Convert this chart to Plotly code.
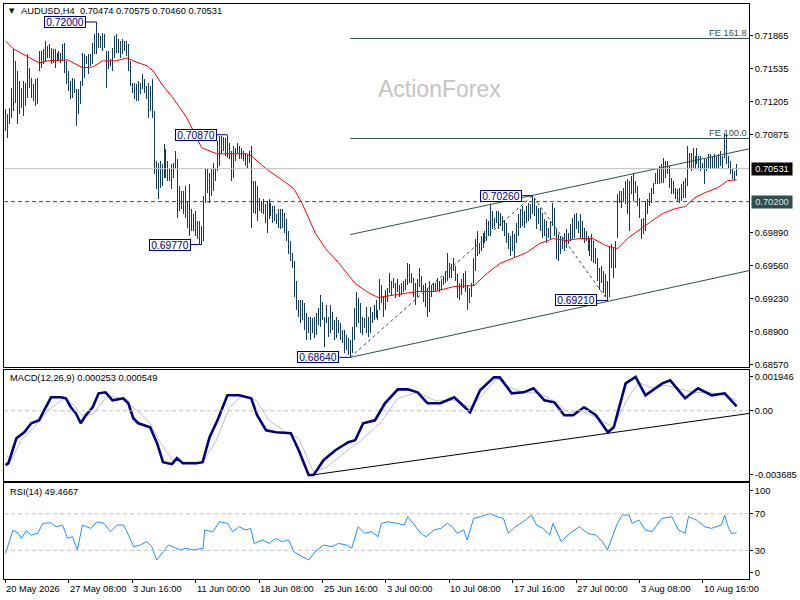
import plotly.graph_objects as go

# AUDUSD H4 bars, highs and lows (bar 0 = 20 May 2026 00:00)
bar_high = [
    0.7113, 0.7108, 0.7114, 0.7134, 0.7173, 0.7161, 0.7151, 0.7141, 0.7134, 0.7141,
    0.7139, 0.7168, 0.7154, 0.7144, 0.7138, 0.7143, 0.7144, 0.7171, 0.7171, 0.7173,
    0.7181, 0.7176, 0.7178, 0.7174, 0.7173, 0.7173, 0.7169, 0.7171, 0.7169, 0.7178,
    0.7179, 0.7161, 0.7151, 0.7141, 0.7144, 0.7143, 0.7133, 0.7133, 0.7141, 0.7169,
    0.7168, 0.7166, 0.7168, 0.7168, 0.7179, 0.7188, 0.7200, 0.7189, 0.7186, 0.7189,
    0.7188, 0.7171, 0.7171, 0.7163, 0.7174, 0.7186, 0.7188, 0.7183, 0.7181, 0.7183,
    0.7181, 0.7181, 0.7178, 0.7161, 0.7139, 0.7139, 0.7138, 0.7141, 0.7139, 0.7148,
    0.7143, 0.7136, 0.7139, 0.7136, 0.7143, 0.7111, 0.7061, 0.7059, 0.7061, 0.7058,
    0.7078, 0.7073, 0.7061, 0.7054, 0.7058, 0.7059, 0.7071, 0.7063, 0.7036, 0.7031,
    0.7031, 0.7036, 0.7021, 0.7038, 0.7013, 0.7008, 0.7011, 0.7001, 0.7001, 0.6996,
    0.7026, 0.7054, 0.7053, 0.7049, 0.7053, 0.7059, 0.7054, 0.7081, 0.7086, 0.7086,
    0.7085, 0.7084, 0.7087, 0.7079, 0.7071, 0.7076, 0.7074, 0.7079, 0.7076, 0.7074,
    0.7071, 0.7069, 0.7068, 0.7071, 0.7076, 0.7041, 0.7041, 0.7036, 0.7024, 0.7021,
    0.7023, 0.7018, 0.7021, 0.7023, 0.7019, 0.7016, 0.7016, 0.7008, 0.7013, 0.7013,
    0.7013, 0.7009, 0.7003, 0.6991, 0.6981, 0.6969, 0.6961, 0.6941, 0.6921, 0.6921,
    0.6921, 0.6918, 0.6908, 0.6904, 0.6904, 0.6903, 0.6904, 0.6908, 0.6913, 0.6926,
    0.6919, 0.6904, 0.6916, 0.6904, 0.6916, 0.6909, 0.6901, 0.6904, 0.6901, 0.6898,
    0.6891, 0.6891, 0.6886, 0.6883, 0.6881, 0.6894, 0.6913, 0.6929, 0.6923, 0.6918,
    0.6904, 0.6903, 0.6914, 0.6904, 0.6914, 0.6909, 0.6916, 0.6921, 0.6911, 0.6943,
    0.6936, 0.6924, 0.6931, 0.6933, 0.6949, 0.6941, 0.6944, 0.6939, 0.6943, 0.6936,
    0.6938, 0.6941, 0.6943, 0.6959, 0.6958, 0.6949, 0.6944, 0.6939, 0.6943, 0.6954,
    0.6946, 0.6936, 0.6938, 0.6933, 0.6941, 0.6936, 0.6939, 0.6938, 0.6944, 0.6941,
    0.6943, 0.6946, 0.6951, 0.6969, 0.6959, 0.6958, 0.6964, 0.6956, 0.6948, 0.6939,
    0.6943, 0.6949, 0.6951, 0.6936, 0.6933, 0.6938, 0.6964, 0.6983, 0.6991, 0.6979,
    0.6986, 0.6989, 0.6991, 0.7003, 0.7001, 0.7018, 0.7011, 0.7004, 0.7011, 0.7011,
    0.7009, 0.7006, 0.7001, 0.6999, 0.6989, 0.6986, 0.6991, 0.6988, 0.6999, 0.7008,
    0.7013, 0.7016, 0.7011, 0.7016, 0.7019, 0.7018, 0.7026, 0.7024, 0.7016, 0.7014,
    0.7014, 0.7009, 0.7003, 0.7001, 0.6994, 0.7001, 0.7019, 0.7014, 0.6993, 0.6988,
    0.6986, 0.6984, 0.6989, 0.6993, 0.6989, 0.6998, 0.7004, 0.7008, 0.7009, 0.7001,
    0.7008, 0.7001, 0.6994, 0.6991, 0.6986, 0.6984, 0.6988, 0.6981, 0.6974, 0.6964,
    0.6954, 0.6956, 0.6951, 0.6948, 0.6941, 0.6976, 0.6978, 0.6974, 0.6981, 0.7028,
    0.7031, 0.7031, 0.7034, 0.7041, 0.7043, 0.7041, 0.7046, 0.7049, 0.7041, 0.7036,
    0.7024, 0.7003, 0.7004, 0.7021, 0.7023, 0.7029, 0.7034, 0.7039, 0.7049, 0.7054,
    0.7056, 0.7058, 0.7064, 0.7061, 0.7061, 0.7056, 0.7044, 0.7041, 0.7034, 0.7033,
    0.7034, 0.7038, 0.7041, 0.7044, 0.7076, 0.7069, 0.7069, 0.7074, 0.7066, 0.7074,
    0.7066, 0.7066, 0.7059, 0.7063, 0.7063, 0.7068, 0.7068, 0.7066, 0.7068, 0.7066,
    0.7068, 0.7071, 0.7066, 0.7089, 0.7088, 0.7066, 0.7061, 0.7053, 0.7051, 0.70575,
]
bar_low = [
    0.7091, 0.7084, 0.7098, 0.7104, 0.7111, 0.7119, 0.7098, 0.7108, 0.7114, 0.7106,
    0.7116, 0.7124, 0.7134, 0.7124, 0.7121, 0.7116, 0.7118, 0.7151, 0.7154, 0.7158,
    0.7161, 0.7164, 0.7164, 0.7158, 0.7159, 0.7154, 0.7161, 0.7161, 0.7159, 0.7161,
    0.7149, 0.7138, 0.7131, 0.7123, 0.7124, 0.7129, 0.7096, 0.7108, 0.7118, 0.7136,
    0.7144, 0.7158, 0.7148, 0.7156, 0.7158, 0.7168, 0.7168, 0.7174, 0.7174, 0.7171,
    0.7174, 0.7134, 0.7153, 0.7156, 0.7151, 0.7164, 0.7169, 0.7169, 0.7164, 0.7168,
    0.7171, 0.7166, 0.7151, 0.7136, 0.7129, 0.7123, 0.7121, 0.7121, 0.7128, 0.7133,
    0.7129, 0.7123, 0.7104, 0.7111, 0.7104, 0.7048, 0.7033, 0.7023, 0.7034, 0.7036,
    0.7044, 0.7044, 0.7041, 0.7041, 0.7033, 0.7044, 0.7053, 0.7004, 0.7011, 0.7013,
    0.7008, 0.7004, 0.6994, 0.6986, 0.6991, 0.6991, 0.6986, 0.6983, 0.6978, 0.6977,
    0.6981, 0.7019, 0.7029, 0.7019, 0.7026, 0.7031, 0.7041, 0.7051, 0.7056, 0.7068,
    0.7071, 0.7066, 0.7064, 0.7063, 0.7041, 0.7044, 0.7061, 0.7068, 0.7063, 0.7063,
    0.7061, 0.7056, 0.7054, 0.7059, 0.6994, 0.7009, 0.7008, 0.7001, 0.7011, 0.7009,
    0.7008, 0.6999, 0.6989, 0.7003, 0.7006, 0.6999, 0.7001, 0.6998, 0.6994, 0.6993,
    0.6994, 0.6989, 0.6981, 0.6968, 0.6961, 0.6954, 0.6924, 0.6911, 0.6904, 0.6898,
    0.6901, 0.6891, 0.6881, 0.6888, 0.6881, 0.6888, 0.6883, 0.6886, 0.6896, 0.6894,
    0.6901, 0.6874, 0.6898, 0.6884, 0.6888, 0.6891, 0.6881, 0.6883, 0.6888, 0.6881,
    0.6878, 0.6868, 0.6871, 0.6866, 0.6864, 0.6868, 0.6881, 0.6894, 0.6898, 0.6888,
    0.6886, 0.6893, 0.6888, 0.6884, 0.6888, 0.6898, 0.6901, 0.6903, 0.6901, 0.6911,
    0.6918, 0.6904, 0.6911, 0.6919, 0.6928, 0.6926, 0.6933, 0.6923, 0.6929, 0.6924,
    0.6926, 0.6929, 0.6931, 0.6936, 0.6939, 0.6938, 0.6924, 0.6916, 0.6924, 0.6934,
    0.6929, 0.6919, 0.6914, 0.6904, 0.6909, 0.6924, 0.6929, 0.6929, 0.6931, 0.6929,
    0.6931, 0.6936, 0.6939, 0.6941, 0.6944, 0.6944, 0.6951, 0.6941, 0.6923, 0.6921,
    0.6926, 0.6933, 0.6929, 0.6911, 0.6918, 0.6924, 0.6936, 0.6951, 0.6966, 0.6968,
    0.6971, 0.6974, 0.6979, 0.6981, 0.6986, 0.6986, 0.6993, 0.6994, 0.6999, 0.6993,
    0.6996, 0.6991, 0.6986, 0.6979, 0.6973, 0.6966, 0.6971, 0.6964, 0.6979, 0.6986,
    0.6994, 0.6996, 0.6994, 0.6999, 0.7001, 0.7003, 0.7008, 0.7006, 0.6993, 0.6998,
    0.6991, 0.6984, 0.6986, 0.6979, 0.6984, 0.6983, 0.6996, 0.6986, 0.6963, 0.6961,
    0.6968, 0.6973, 0.6971, 0.6974, 0.6978, 0.6981, 0.6983, 0.6984, 0.6993, 0.6989,
    0.6984, 0.6983, 0.6979, 0.6981, 0.6971, 0.6966, 0.6961, 0.6959, 0.6958, 0.6941,
    0.6931, 0.6938, 0.6928, 0.6924, 0.6921, 0.6924, 0.6954, 0.6944, 0.6954, 0.6984,
    0.7019, 0.7014, 0.7021, 0.7018, 0.7008, 0.6991, 0.7028, 0.7021, 0.7029, 0.7016,
    0.7004, 0.6983, 0.6988, 0.6991, 0.7008, 0.7016, 0.7019, 0.7028, 0.7038, 0.7038,
    0.7038, 0.7039, 0.7039, 0.7044, 0.7048, 0.7034, 0.7028, 0.7028, 0.7023, 0.7021,
    0.7019, 0.7021, 0.7024, 0.7024, 0.7036, 0.7054, 0.7051, 0.7054, 0.7053, 0.7058,
    0.7054, 0.7051, 0.7053, 0.7038, 0.7051, 0.7053, 0.7053, 0.7054, 0.7054, 0.7053,
    0.7054, 0.7056, 0.7053, 0.7064, 0.7058, 0.7054, 0.7048, 0.7043, 0.7041, 0.70460,
]

# red moving average, sampled along the line
ma_bar = [0, 4, 10.5, 17, 21.5, 31.5, 39, 44, 49, 55.5,
          61.5, 64.5, 71.5, 74.5, 79.5, 84.5, 91.5, 99, 106.5, 121.5,
          124, 131.5, 141.5, 145.5, 149.5, 156.5, 161.5, 168, 176.5, 183,
          188, 198, 208, 216.5, 226.5, 236.5, 243, 249.5, 256.5, 263,
          269.5, 276.5, 283, 289.5, 296.5, 303, 309, 314.5, 321.5, 331.5,
          338, 343, 348, 353, 359.5, 364.5, 369]
ma_val = [0.7181, 0.7173, 0.7166, 0.7159, 0.7161, 0.7162, 0.7154, 0.7155, 0.7161, 0.7161,
          0.7164, 0.7161, 0.7156, 0.7151, 0.7136, 0.7124, 0.7104, 0.7074, 0.7068, 0.7068,
          0.7066, 0.7053, 0.7039, 0.7033, 0.7019, 0.6988, 0.6973, 0.6959, 0.6938, 0.6929,
          0.6924, 0.6927, 0.6930, 0.6930, 0.6935, 0.6936, 0.6948, 0.6958, 0.6964, 0.6969,
          0.6978, 0.6983, 0.6981, 0.6983, 0.6983, 0.6976, 0.6973, 0.6984, 0.6994, 0.7008,
          0.7013, 0.7015, 0.7024, 0.7029, 0.7034, 0.7041, 0.7042]

# MACD(12,26,9) main and signal lines
macd_bar = [0, 1.5, 5.5, 9.5, 13, 17, 19.5, 23, 28, 30.5,
            33, 35.5, 38, 40.5, 44, 47, 50.5, 54, 59.5, 62,
            64.5, 67, 73, 76.5, 79.5, 84, 86.5, 89.5, 96.5, 99.5,
            103, 107, 112, 114.5, 118, 124, 127, 131.5, 136.5, 144,
            148, 153, 155.5, 160.5, 166.5, 173, 176.5, 180.5, 186.5, 191.5,
            198, 203, 208, 213, 219.5, 226.5, 233, 234.5, 239.5, 246.5,
            249.5, 255.5, 261.5, 266.5, 272, 277, 282, 286.5, 292, 298,
            304, 307, 313, 318, 323, 331.5, 335.5, 343, 349.5, 356.5,
            363, 368, 369]
macd_main = [-0.003123, -0.003009, -0.001577, -0.001233, -0.000718, -0.000546, 0.000027, 0.000772, 0.000772, 0.000715,
             0.000199, -0.000145, -0.000718, -0.000259, 0.000199, 0.001001, 0.001058, 0.000600, 0.000715, 0.000428,
             -0.000431, -0.000718, -0.000947, -0.001863, -0.002951, -0.003066, -0.002722, -0.003009, -0.003009, -0.002951,
             -0.001519, -0.000546, 0.000886, 0.000886, 0.000886, 0.000715, -0.000259, -0.001118, -0.001233, -0.001291,
             -0.002264, -0.003685, -0.003685, -0.002837, -0.002264, -0.001806, -0.001691, -0.000718, -0.000546, 0.000428,
             0.001230, 0.001230, 0.001058, 0.000428, 0.000428, 0.000772, 0.000027, -0.000087, 0.001173, 0.001917,
             0.001917, 0.001001, 0.001058, 0.001287, 0.000600, 0.000485, -0.000259, -0.000259, 0.000199, -0.000259,
             -0.001233, -0.000947, 0.001574, 0.001946, 0.000886, 0.001574, 0.001746, 0.000715, 0.001287, 0.000886,
             0.001001, 0.000428, 0.000253]
signal_bar = [0, 3, 8, 14.5, 21.5, 29.5, 34.5, 39.5, 44.5, 51.5,
              58, 66.5, 73, 78, 84.5, 91.5, 99.5, 106.5, 113, 119.5,
              126.5, 133, 141.5, 148, 155.5, 162, 171.5, 179.5, 189.5, 198,
              208, 216.5, 226.5, 234.5, 241.5, 248, 254.5, 261.5, 269.5, 276.5,
              284.5, 289.5, 298, 306.5, 314.5, 319.5, 326.5, 333, 339.5, 346.5,
              354.5, 363, 368, 369]
signal_line = [-0.002550, -0.002837, -0.001691, -0.000947, 0.000027, 0.000715, 0.000314, -0.000374, -0.000145, 0.000886,
               0.000715, 0.000027, -0.000718, -0.001806, -0.002837, -0.002951, -0.002951, -0.001691, 0.000199, 0.000886,
               0.000600, -0.000546, -0.001233, -0.001577, -0.003524, -0.003238, -0.002379, -0.001691, -0.000660, 0.000715,
               0.001058, 0.000600, 0.000600, 0.000199, 0.001001, 0.001860, 0.001344, 0.001058, 0.001001, 0.000600,
               -0.000145, 0.000027, -0.000374, -0.000947, 0.000772, 0.001631, 0.001287, 0.001459, 0.001287, 0.001058,
               0.001058, 0.000886, 0.000620, 0.000549]

# RSI(14)
rsi_bar = [0, 1.3, 3.8, 6.3, 8, 10.5, 13, 16.3, 18.8, 23,
           25.5, 28.8, 31.3, 33.8, 36.3, 38.8, 43, 46.3, 49.7, 53,
           56.3, 59.7, 62.2, 64.7, 68, 71.3, 73.8, 76.3, 79.7, 82.2,
           84.7, 88, 91.3, 94.7, 99.7, 100.5, 104.7, 108, 112.2, 114.7,
           118, 121.3, 123.8, 125.5, 129.7, 133, 136.3, 139.7, 143, 145.5,
           149.7, 153, 156.3, 160.5, 164.7, 168, 172.2, 174.7, 178, 181.3,
           184.7, 188, 189.7, 193,
           198, 201.3, 203, 206.3, 209.7, 212.2, 216.3, 219.7, 223, 225.5,
           228, 231.3, 233, 236.3, 239.7, 244.7, 248, 251.3, 253.8, 257.2,
           261.3, 265.5, 268, 271.3, 274.7, 276.3, 280.5, 284.7, 289.7, 293.8,
           298, 301.3, 303.8, 306.3, 308.8, 311.3, 314.7, 316.3, 319.7, 323,
           326.3, 331.3, 336.3, 339.7, 343, 344.7, 348.8, 353, 356.3, 361.3,
           363, 364.7, 366.3, 368, 369]
rsi_val = [26.7, 35.8, 52.2, 48.6, 43.1, 51.5, 46.7, 48.6, 59.5, 60.2,
           55.8, 57.7, 43.1, 44.9, 30.4, 57.7, 54.0, 61.3, 59.5, 50.4,
           57.7, 57.7, 46.7, 34.0, 35.8, 39.5, 34.0, 19.4, 28.5, 35.8,
           34.0, 30.4, 32.2, 30.4, 32.2, 52.2, 50.4, 61.3, 59.5, 50.4,
           55.8, 52.2, 54.0, 37.6, 41.3, 37.6, 43.1, 39.5, 41.3, 28.5,
           23.1, 19.4, 28.5, 35.8, 34.0, 37.6, 35.8, 32.2, 55.8, 48.6,
           50.4, 44.9, 59.5, 61.3,
           59.5, 57.7, 66.8, 57.7, 48.6, 44.9, 52.2, 54.0, 59.5, 55.8,
           48.6, 52.2, 41.3, 65.0, 66.8, 70.4, 66.8, 65.0, 48.6, 55.8,
           61.3, 68.6, 57.7, 54.0, 46.7, 59.5, 39.5, 48.6, 55.8, 48.6,
           46.7, 39.5, 30.4, 44.9, 59.5, 68.6, 68.6, 59.5, 63.1, 52.2,
           50.4, 65.0, 66.8, 52.2, 48.6, 66.8, 63.1, 55.8, 54.0, 57.7,
           68.6, 55.8, 48.6, 48.6, 49.5]

date_bars = [0, 32, 64, 96, 128, 160, 192, 224, 256, 288, 320, 352]
date_labels = ["20 May 2026", "27 May 08:00", "3 Jun 16:00", "11 Jun 00:00",
               "18 Jun 08:00", "25 Jun 16:00", "3 Jul 00:00", "10 Jul 08:00",
               "17 Jul 16:00", "27 Jul 00:00", "3 Aug 08:00", "10 Aug 16:00"]

price_ticks = [0.71865, 0.71535, 0.71205, 0.70875, 0.69890, 0.69560, 0.69230, 0.68900, 0.68570]

swing_bars = [46, 112, 99, 174, 266, 304]
swing_prices = [0.72000, 0.70870, 0.69770, 0.68640, 0.70260, 0.69210]

zigzag_bars = [174, 266, 304]
zigzag_prices = [0.68640, 0.70260, 0.69210]

channel_bars = [174, 375.5]
channel_upper = [0.6987, 0.7073]
channel_lower = [0.6864, 0.6951]

fe_levels = [0.71835, 0.70833]
fe_names = ["FE 161.8", "FE 100.0"]

macd_trend_bars = [155, 375.5]
macd_trend_vals = [-0.003685, -0.00015]

last_price = 0.70531
support = 0.70200

BAR = '#143c5a'
SLATE = '#2f4f4f'
NAVY = '#000080'
FONT = 'Liberation Sans, Arial, sans-serif'
XR = [-0.75, 375.25]

fig = go.Figure()

# --- price bars as 1px vertical strokes, low to high ---
bx, by = [], []
for i, (h, l) in enumerate(zip(bar_high, bar_low)):
    bx += [i, i, None]
    by += [l, h, None]
fig.add_trace(go.Scatter(x=bx, y=by, mode='lines', line=dict(color=BAR, width=1),
                         hoverinfo='skip', xaxis='x', yaxis='y'))

fig.add_trace(go.Scatter(x=ma_bar, y=ma_val, mode='lines', line=dict(color='red', width=1),
                         hoverinfo='skip', xaxis='x', yaxis='y'))

# channel, fib extension lines and zigzag
for ys in (channel_upper, channel_lower):
    fig.add_trace(go.Scatter(x=channel_bars, y=ys, mode='lines', line=dict(color=SLATE, width=1),
                             hoverinfo='skip', xaxis='x', yaxis='y'))
for lvl in fe_levels:
    fig.add_trace(go.Scatter(x=[channel_bars[0], XR[1]], y=[lvl, lvl], mode='lines',
                             line=dict(color=SLATE, width=1), hoverinfo='skip', xaxis='x', yaxis='y'))
fig.add_trace(go.Scatter(x=zigzag_bars, y=zigzag_prices, mode='lines',
                         line=dict(color=SLATE, width=1, dash='dot'), hoverinfo='skip', xaxis='x', yaxis='y'))

# swing label connectors
for b, p in zip(swing_bars, swing_prices):
    fig.add_trace(go.Scatter(x=[b - 5.5, b], y=[p, p], mode='lines', line=dict(color=NAVY, width=1),
                             hoverinfo='skip', xaxis='x', yaxis='y'))

# --- MACD ---
fig.add_trace(go.Scatter(x=signal_bar, y=signal_line, mode='lines', line=dict(color='#c0c0c0', width=1),
                         hoverinfo='skip', xaxis='x2', yaxis='y2'))
fig.add_trace(go.Scatter(x=macd_bar, y=macd_main, mode='lines', line=dict(color=NAVY, width=2.6),
                         hoverinfo='skip', xaxis='x2', yaxis='y2'))
fig.add_trace(go.Scatter(x=macd_trend_bars, y=macd_trend_vals, mode='lines', line=dict(color='black', width=1),
                         hoverinfo='skip', xaxis='x2', yaxis='y2'))

# --- RSI ---
fig.add_trace(go.Scatter(x=rsi_bar, y=rsi_val, mode='lines', line=dict(color='#1e90ff', width=1),
                         hoverinfo='skip', xaxis='x3', yaxis='y3'))

frame = dict(showgrid=False, zeroline=False, showline=True, mirror=True,
             linecolor='black', linewidth=1)
xcommon = dict(range=XR, showticklabels=False, ticks='', **frame)
ycommon = dict(side='right', ticks='outside', ticklen=3, tickcolor='black',
               tickfont=dict(family=FONT, size=9.3, color='black'), **frame)

shapes = [
    dict(type='line', xref='paper', yref='y', x0=0, x1=1, y0=last_price, y1=last_price,
         line=dict(color='#c0c0c0', width=1)),
    dict(type='line', xref='paper', yref='y', x0=0, x1=1, y0=support, y1=support,
         line=dict(color=SLATE, width=1, dash='4px,3px')),
    dict(type='line', xref='paper', yref='y2', x0=0, x1=1, y0=0, y1=0,
         line=dict(color='#c0c0c0', width=1, dash='4px,3px')),
    dict(type='line', xref='paper', yref='y3', x0=0, x1=1, y0=70, y1=70,
         line=dict(color='#c0c0c0', width=1, dash='4px,3px')),
    dict(type='line', xref='paper', yref='y3', x0=0, x1=1, y0=30, y1=30,
         line=dict(color='#c0c0c0', width=1, dash='4px,3px')),
]

ann = []
ann.append(dict(text='▼', xref='paper', yref='paper', x=0.004, y=0.9878, xanchor='left', yanchor='middle',
                showarrow=False, font=dict(family='DejaVu Sans', size=7, color='black')))
ann.append(dict(text='AUDUSD,H4\u00a0\u00a00.70474 0.70575 0.70460 0.70531', xref='paper', yref='paper',
                x=0.0195, y=0.9878, xanchor='left', yanchor='middle', showarrow=False,
                font=dict(family=FONT, size=9.3, color='black')))
ann.append(dict(text='MACD(12,26,9) 0.000253 0.000549', xref='paper', yref='paper',
                x=0.005, y=0.349, xanchor='left', yanchor='middle', showarrow=False,
                font=dict(family=FONT, size=9.3, color='black')))
ann.append(dict(text='RSI(14) 49.4667', xref='paper', yref='paper',
                x=0.005, y=0.151, xanchor='left', yanchor='middle', showarrow=False,
                font=dict(family=FONT, size=9.3, color='black')))
ann.append(dict(text='ActionForex', xref='paper', yref='paper', x=0.5851, y=0.8524,
                xanchor='center', yanchor='middle', showarrow=False,
                font=dict(family=FONT, size=23, color='#c4c4c4')))
for name, lvl in zip(fe_names, fe_levels):
    ann.append(dict(text=name, xref='paper', yref='y', x=1, y=lvl, xanchor='right', yanchor='bottom',
                    showarrow=False, yshift=-2, font=dict(family=FONT, size=9.3, color=SLATE)))
for b, p in zip(swing_bars, swing_prices):
    ann.append(dict(text=f'{p:.5f}', xref='x', yref='y', x=b - 5.5, y=p, xanchor='right', yanchor='middle',
                    showarrow=False, bgcolor='white', bordercolor=NAVY, borderwidth=1, borderpad=0,
                    width=40, height=10, font=dict(family=FONT, size=10.3, color=NAVY)))
ann.append(dict(text=f'{last_price:.5f}', xref='paper', yref='y', x=1, y=last_price, xanchor='left',
                yanchor='middle', xshift=2, showarrow=False, bgcolor='black', borderpad=1, width=38, height=10,
                font=dict(family=FONT, size=9.3, color='white')))
ann.append(dict(text=f'{support:.5f}', xref='paper', yref='y', x=1, y=support, xanchor='left',
                yanchor='middle', xshift=2, showarrow=False, bgcolor=SLATE, borderpad=1, width=38, height=10,
                font=dict(family=FONT, size=9.3, color='#e0e0e0')))
for b, lab in zip(date_bars, date_labels):
    ann.append(dict(text=lab, xref='x3', yref='paper', x=b, y=0, xanchor='left', yanchor='top',
                    xshift=-1, yshift=-3, showarrow=False, font=dict(family=FONT, size=9.3, color='black')))

fig.update_layout(
    width=800, height=600,
    margin=dict(l=3, r=45, t=3, b=21),
    paper_bgcolor='white', plot_bgcolor='white',
    showlegend=False,
    font=dict(family=FONT, size=9.3, color='black'),
    xaxis=dict(anchor='y', **xcommon),
    xaxis2=dict(anchor='y2', **xcommon),
    xaxis3=dict(anchor='y3', range=XR, showticklabels=False, ticks='outside', ticklen=3,
                tickcolor='black', tickvals=date_bars, **frame),
    yaxis=dict(domain=[0.3681, 1.0], range=[0.6854, 0.7218], anchor='x',
               tickvals=price_ticks, tickformat='.5f', **ycommon),
    yaxis2=dict(domain=[0.1707, 0.3637], range=[-0.004023, 0.002347], anchor='x2',
                tickvals=[0.001946, 0, -0.003685], ticktext=['0.001946', '0.00', '-0.003685'], **ycommon),
    yaxis3=dict(domain=[0.0, 0.1661], range=[-1.4, 103.2], anchor='x3',
                tickvals=[95.1, 70, 30, 6], ticktext=['100', '70', '30', '0'], **ycommon),
    shapes=shapes,
    annotations=ann,
)

# snap the price-bar strokes to whole pixels so they stay sharp like the terminal chart
crisp = """
document.body.style.margin='0px';
var t = document.querySelectorAll('.subplot.xy .scatterlayer .trace')[0];
if (t) { t.querySelectorAll('path').forEach(function(p){ p.style.shapeRendering='crispEdges'; }); }
"""
fig.write_html("out.html", config={'displayModeBar': False}, post_script=crisp)
